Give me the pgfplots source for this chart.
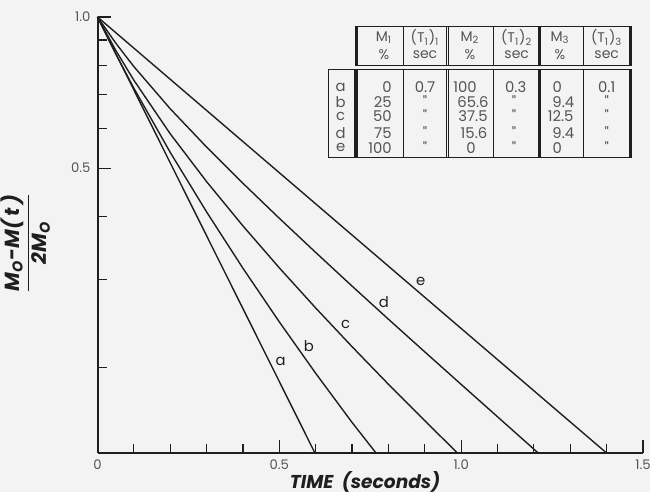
\documentclass[border=0pt]{standalone}
\usepackage{fontspec}
\setmainfont{Poppins}
\usepackage{pgfplots}
\pgfplotsset{compat=1.18}
\definecolor{bg}{rgb}{0.953,0.953,0.953}
\definecolor{ink}{rgb}{0.12,0.12,0.12}
\definecolor{lab}{rgb}{0.33,0.33,0.33}
\newcommand\fs{\fontsize{6.6}{7.5}\selectfont}
\newcommand\ft{\fontsize{7.4}{8.5}\selectfont}
\newcommand\fh{\fontsize{7.0}{8}\selectfont}
\begin{document}
\begin{tikzpicture}
\useasboundingbox[fill=bg] (0,0) rectangle (325pt,246pt);
\begin{axis}[at={(48.75pt,19.5pt)}, anchor=south west, scale only axis,
  width=272.75pt, height=218pt, xmin=0, xmax=1.5, ymode=log, ymin=0.13534, ymax=1,
  axis lines*=left, axis line style={line width=1pt, ink},
  tick align=inside, major tick length=6.5pt, minor tick length=4.5pt,
  every tick/.style={ink, line width=0.6pt},
  xtick={0,0.5,1,1.5}, xticklabels={0,0.5,1.0,1.5},
  minor xtick={0.1,0.2,0.3,0.4,0.6,0.7,0.8,0.9,1.1,1.2,1.3,1.4},
  ytick={0.5,1}, yticklabels={0.5,1.0},
  minor ytick={0.2,0.3,0.4,0.6,0.7,0.8,0.9},
  ticklabel style={font=\fs, text=lab}, clip=false]
\addplot[ink, line width=0.7pt] coordinates {(0,1) (0.598,0.1353)};
\addplot[ink, line width=0.7pt] coordinates {(0,1) (0.05,0.8451) (0.1,0.7213) (0.2,0.5374) (0.3,0.4089) (0.4,0.3158) (0.5,0.2469) (0.6,0.1951) (0.7,0.1557) (0.766,0.1353)};
\addplot[ink, line width=0.7pt] coordinates {(0,1) (0.05,0.8587) (0.1,0.7482) (0.2,0.5852) (0.3,0.4699) (0.4,0.3836) (0.5,0.3164) (0.6,0.2632) (0.7,0.2204) (0.8,0.1855) (0.9,0.1569) (0.99,0.1353)};
\addplot[ink, line width=0.7pt] coordinates {(0,1) (0.05,0.8874) (0.1,0.7966) (0.2,0.6564) (0.3,0.5507) (0.4,0.4663) (0.5,0.3972) (0.6,0.3396) (0.7,0.2910) (0.8,0.2500) (0.9,0.2152) (1.0,0.1854) (1.1,0.1598) (1.212,0.1353)};
\addplot[ink, line width=0.7pt] coordinates {(0,1) (1.40,0.1353)};
\end{axis}
\begin{scope}[shift={(0pt,246pt)}, x=0.5pt, y=-0.5pt]
 % curve labels
 \begin{scope}[every node/.style={font=\ft, text=ink}]
 \node at (280.7,361.7) {a};
 \node at (309,345.7) {b};
 \node at (345.7,324.3) {c};
 \node at (384,301.7) {d};
 \node at (420.7,281.7) {e};
 \end{scope}
 % table frame
 \begin{scope}[ink, line width=0.6pt]
 \draw (356,26.7) rectangle (631,65.7);
 \draw (356,69.3) rectangle (631,157.7);
 \draw (328.3,69.3) rectangle (354.3,157.7);
 \foreach \xx in {357.7,446.7,448.3,538.3,540,629.3,403.3,493.3,583.3} {
   \draw (\xx,26.7) -- (\xx,65.7);
   \draw (\xx,69.3) -- (\xx,157.7);
 }
 \end{scope}
 \begin{scope}[every node/.style={font=\fh, text=lab, inner sep=0pt}]
 % header
 \node at (384,37.5) {M\textsubscript{1}};   \node at (384,54.5) {\%};
 \node at (425,37.5) {(T\textsubscript{1})\textsubscript{1}}; \node at (425,54.5) {sec};
 \node at (470,37.5) {M\textsubscript{2}};   \node at (470,54.5) {\%};
 \node at (516.7,37.5) {(T\textsubscript{1})\textsubscript{2}}; \node at (516.7,54.5) {sec};
 \node at (560,37.5) {M\textsubscript{3}};   \node at (560,54.5) {\%};
 \node at (606.7,37.5) {(T\textsubscript{1})\textsubscript{3}}; \node at (606.7,54.5) {sec};
 \end{scope}
 \begin{scope}[every node/.style={font=\ft, text=lab, inner sep=0pt}]
 % row labels
 \foreach \r/\yy in {a/87.3,b/101.7,c/116,d/132.7,e/147.7} {\node at (340.7,\yy) {\r};}
 % M1
 \foreach \v/\yy in {0/87.3,25/101.7,50/116,75/132.7,100/147.7} {\node[anchor=east] at (392,\yy) {\v};}
 % T1
 \node at (425,87.3) {0.7};
 \foreach \yy in {101.7,116,132.7,147.7} {\node at (425,\yy) {\textquotedbl};}
 % M2
 \node at (465,87.3) {100};
 \node at (473,101.7) {65.6};
 \node at (473,116) {37.5};
 \node at (474,132.7) {15.6};
 \node at (471,147.7) {0};
 % T2
 \node at (515.7,87.3) {0.3};
 \foreach \yy in {101.7,116,132.7,147.7} {\node at (514,\yy) {\textquotedbl};}
 % M3
 \node at (557.3,87.3) {0};
 \node at (563.3,101.7) {9.4};
 \node at (560.7,116) {12.5};
 \node at (563.3,132.7) {9.4};
 \node at (557.3,147.7) {0};
 % T3
 \node at (606.7,87.3) {0.1};
 \foreach \yy in {101.7,116,132.7,147.7} {\node at (606.7,\yy) {\textquotedbl};}
 \end{scope}
 % axis labels
 \node[font=\fontsize{9.3}{11}\selectfont\bfseries\itshape, text=ink, inner sep=0pt] at (365,481.5) {TIME\ \ (seconds)};
 \node[rotate=90, font=\fontsize{10.2}{11}\selectfont\bfseries\itshape, text=ink, inner sep=0pt] at (27,243)
   {\begin{tabular}{@{}c@{}}M\textsubscript{O}-M(\,t\,)\\[1pt]\hline\rule{0pt}{9pt}2M\textsubscript{O}\end{tabular}};
\end{scope}
\end{tikzpicture}
\end{document}
